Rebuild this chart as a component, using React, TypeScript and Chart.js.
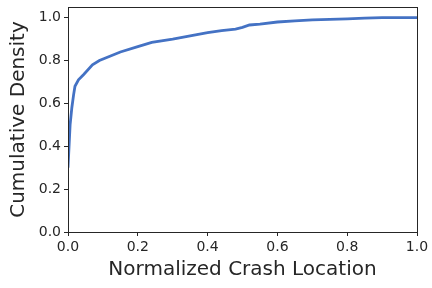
import React, { useEffect, useRef } from "react";
import { Chart, registerables } from "chart.js";

Chart.register(...registerables);

const locations = [0, 0.003, 0.006, 0.011, 0.016, 0.02, 0.03, 0.045, 0.07, 0.09, 0.12, 0.15, 0.2, 0.24, 0.3, 0.35, 0.4, 0.44, 0.48, 0.5, 0.52, 0.55, 0.6, 0.65, 0.7, 0.75, 0.8, 0.85, 0.9, 0.95, 1.0];
const densities = [0.3, 0.4, 0.5, 0.58, 0.64, 0.68, 0.71, 0.735, 0.78, 0.8, 0.82, 0.84, 0.865, 0.885, 0.9, 0.915, 0.93, 0.94, 0.947, 0.955, 0.966, 0.97, 0.98, 0.985, 0.99, 0.992, 0.995, 0.998, 1.0, 1.0, 1.0];
const xTicks = [0, 0.2, 0.4, 0.6, 0.8, 1.0];
const yTicks = [0, 0.2, 0.4, 0.6, 0.8, 1.0];

const FONT = "'DejaVu Sans', sans-serif";
const INK = "#262626";

const frame = {
  id: "frame",
  afterDatasetsDraw(chart: any) {
    const { ctx, chartArea: a } = chart;
    ctx.save();
    ctx.strokeStyle = INK;
    ctx.lineWidth = 1;
    ctx.strokeRect(Math.round(a.left) + 0.5, Math.round(a.top) + 0.5, Math.round(a.right - a.left), Math.round(a.bottom - a.top));
    ctx.restore();
  },
};

export default function App() {
  const ref = useRef<HTMLCanvasElement | null>(null);
  useEffect(() => {
    document.body.style.margin = "0";
    const chart = new Chart(ref.current!, {
      type: "line",
      data: {
        datasets: [
          {
            data: locations.map((x, i) => ({ x, y: densities[i] })),
            borderColor: "#4472C4",
            borderWidth: 2.8,
            pointRadius: 0,
            tension: 0,
            fill: false,
          },
        ],
      },
      options: {
        animation: false,
        responsive: false,
        layout: { padding: { left: 0, top: 7, right: 15, bottom: 0 } },
        plugins: { legend: { display: false }, tooltip: { enabled: false } },
        scales: {
          x: {
            type: "linear",
            min: 0,
            max: 1,
            afterBuildTicks: (s: any) => { s.ticks = xTicks.map((v) => ({ value: v })); },
            afterFit: (s: any) => { s.height = 56; s.paddingLeft = 0; s.paddingRight = 0; },
            grid: { display: true, drawOnChartArea: false, drawTicks: true, tickLength: 4, color: INK },
            border: { display: true, color: INK },
            ticks: { font: { family: FONT, size: 14 }, color: INK, padding: 3, maxRotation: 0, callback: (v: any) => Number(v).toFixed(1) },
            title: { display: true, text: "Normalized Crash Location", font: { family: FONT, size: 20 }, color: INK, padding: { top: 0, bottom: 6 } },
          },
          y: {
            type: "linear",
            min: 0,
            max: 1.05,
            afterBuildTicks: (s: any) => { s.ticks = yTicks.map((v) => ({ value: v })); },
            afterFit: (s: any) => { s.width = 68; s.paddingTop = 0; s.paddingBottom = 0; },
            grid: { display: true, drawOnChartArea: false, drawTicks: true, tickLength: 4, color: INK },
            border: { display: true, color: INK },
            ticks: { font: { family: FONT, size: 14 }, color: INK, padding: 3, callback: (v: any) => Number(v).toFixed(1) },
            title: { display: true, text: "Cumulative Density", font: { family: FONT, size: 20 }, color: INK, padding: { top: 7, bottom: 0 } },
          },
        },
      },
      plugins: [frame],
    });
    return () => chart.destroy();
  }, []);
  return (
    <div style={{ position: "fixed", left: 0, top: 0, width: 432, height: 288, background: "#fff" }}>
      <canvas ref={ref} width={432} height={288} />
    </div>
  );
}
